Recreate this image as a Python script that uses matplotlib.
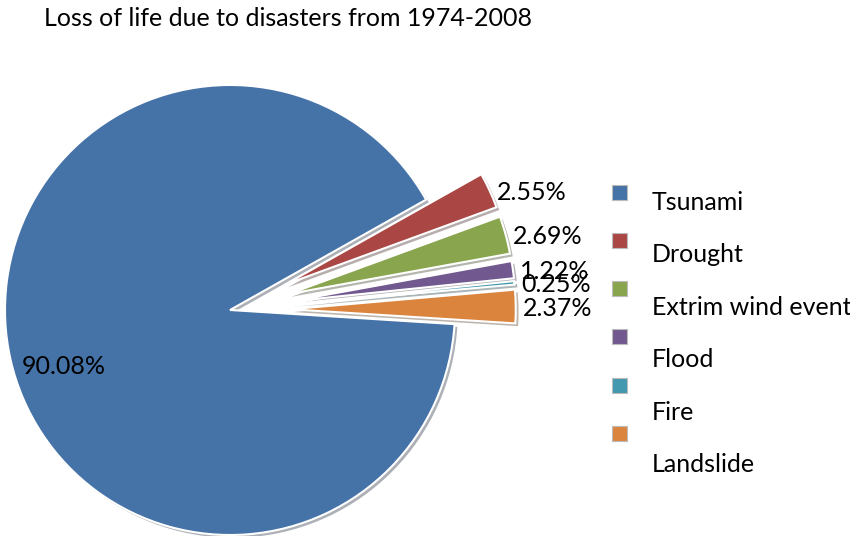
import matplotlib
matplotlib.use("Agg")
import matplotlib.pyplot as plt
import matplotlib.patheffects as pe
from matplotlib.patches import Rectangle
import numpy as np

plt.rcParams['font.family'] = ['Lato', 'DejaVu Sans']

# data
categories = ['Tsunami', 'Drought', 'Extrim wind event', 'Flood', 'Fire', 'Landslide']
values = [90.08, 2.55, 2.69, 1.22, 0.25, 2.37]
labels = ['90.08%', '2.55%', '2.69%', '1.22%', '0.25%', '2.37%']
colors = ['#4572A7', '#AA4643', '#89A54E', '#71588F', '#4198AF', '#DB843D']
explode = [0, 0.27, 0.27, 0.27, 0.27, 0.27]

W, H = 850, 536
fig = plt.figure(figsize=(8.5, 5.36), dpi=100)
ax = fig.add_axes([0, 0, 1, 1])

cx, cy, R = 230, H - 310, 225
# explode is applied in data units by matplotlib, so scale by the radius
wedges, _ = ax.pie(values, colors=colors, explode=[e * R for e in explode],
                   startangle=-3.6, counterclock=False, center=(cx, cy), radius=R,
                   wedgeprops=dict(edgecolor='white', linewidth=1.5))
for w in wedges:
    w.set_path_effects([pe.SimplePatchShadow(offset=(2, -2), alpha=0.35),
                        pe.Normal()])

# percentage labels
for i, w in enumerate(wedges):
    if i == 0:
        ax.text(cx - 166, cy - 57, labels[i], ha='center', va='center', fontsize=18)
        continue
    mid = np.deg2rad((w.theta1 + w.theta2) / 2)
    wx, wy = w.center
    ax.text(wx + R * np.cos(mid) + 7, wy + R * np.sin(mid) - 2, labels[i],
            ha='left', va='center', fontsize=18)

# legend
for i, name in enumerate(categories):
    sy = H - (192 + 48.3 * i)
    ax.add_patch(Rectangle((612, sy - 7.5), 15, 15, facecolor=colors[i],
                           edgecolor='#bbbbbb', linewidth=0.8))
    ax.text(652, H - (202 + 52.6 * i), name, ha='left', va='center', fontsize=18)

ax.set_xlim(0, W)
ax.set_ylim(0, H)
ax.set_aspect('equal')
ax.axis('off')

fig.text(44 / W, 1 - 19 / H, 'Loss of life due to disasters from 1974-2008',
         ha='left', va='center', fontsize=18)

fig.savefig('out.png', dpi=100)
